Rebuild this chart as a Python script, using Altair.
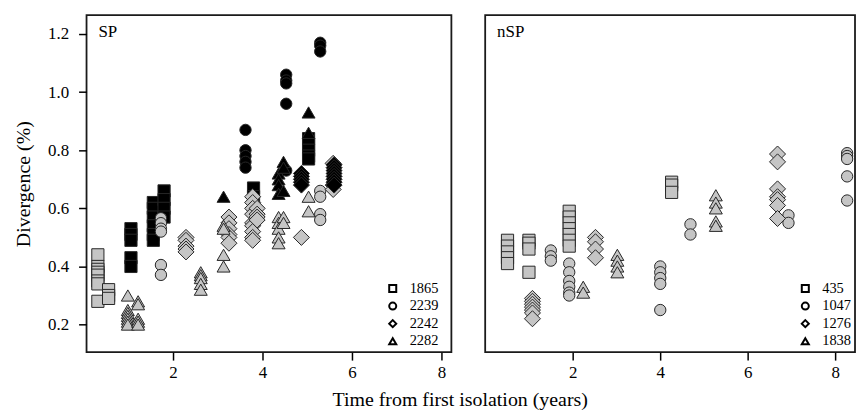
import altair as alt
import pandas as pd

FONT = "Liberation Serif"

# ---- data: (strain, shade, time in years, divergence values %) ----
SP_STRAINS = ["1865", "2239", "2242", "2282"]
NSP_STRAINS = ["435", "1047", "1276", "1838"]

sp_clusters = [
    ("1865", "grey", 0.32, [0.44, 0.40, 0.39, 0.38, 0.37, 0.35, 0.34, 0.28]),
    ("1865", "grey", 0.56, [0.32, 0.30, 0.29]),
    ("1865", "black", 1.06, [0.53, 0.51, 0.49, 0.43, 0.40]),
    ("1865", "black", 1.56, [0.62, 0.60, 0.57, 0.54, 0.51, 0.49]),
    ("1865", "black", 1.80, [0.66, 0.63, 0.60, 0.57]),
    ("1865", "black", 3.80, [0.67, 0.64]),
    ("1865", "black", 5.03, [0.84, 0.82, 0.80, 0.78, 0.77]),
    ("2239", "grey", 1.73, [0.566, 0.549, 0.53, 0.52, 0.405, 0.371]),
    ("2239", "grey", 5.29, [0.66, 0.64, 0.58, 0.56]),
    ("2239", "black", 3.62, [0.87, 0.80, 0.78, 0.76, 0.74]),
    ("2239", "black", 4.53, [1.06, 1.04, 1.03, 0.96, 0.73]),
    ("2239", "black", 5.29, [1.17, 1.16, 1.14]),
    ("2242", "grey", 2.29, [0.50, 0.49, 0.47, 0.46, 0.45]),
    ("2242", "grey", 3.25, [0.57, 0.55, 0.53, 0.51, 0.50, 0.48]),
    ("2242", "grey", 3.78, [0.64, 0.62, 0.60, 0.58, 0.55, 0.54, 0.52, 0.50, 0.49]),
    ("2242", "grey", 3.88, [0.60, 0.58, 0.57, 0.56]),
    ("2242", "grey", 4.87, [0.50]),
    ("2242", "grey", 5.58, [0.755, 0.68, 0.665]),
    ("2242", "black", 4.87, [0.72, 0.71, 0.70, 0.69, 0.68]),
    ("2242", "black", 5.60, [0.75, 0.74, 0.73, 0.72, 0.71, 0.70, 0.69, 0.68]),
    ("2282", "grey", 0.99, [0.30, 0.25, 0.24, 0.23, 0.22, 0.21, 0.20]),
    ("2282", "grey", 1.22, [0.28, 0.27, 0.22, 0.21, 0.20]),
    ("2282", "grey", 2.62, [0.38, 0.37, 0.36, 0.34, 0.32]),
    ("2282", "grey", 3.13, [0.54, 0.53, 0.44, 0.40]),
    ("2282", "grey", 4.36, [0.57, 0.55, 0.53, 0.50, 0.48]),
    ("2282", "grey", 4.47, [0.57, 0.55]),
    ("2282", "grey", 5.03, [0.64, 0.59]),
    ("2282", "black", 3.13, [0.64]),
    ("2282", "black", 4.36, [0.72, 0.70, 0.68, 0.65]),
    ("2282", "black", 4.47, [0.76, 0.74, 0.66]),
    ("2282", "black", 5.03, [0.93, 0.86]),
]

nsp_clusters = [
    ("435", "grey", 0.51, [0.49, 0.47, 0.45, 0.43, 0.41]),
    ("435", "grey", 1.00, [0.49, 0.48, 0.46, 0.38]),
    ("435", "grey", 1.92, [0.59, 0.57, 0.55, 0.53, 0.51, 0.49, 0.47]),
    ("435", "grey", 4.26, [0.69, 0.68, 0.655]),
    ("1047", "grey", 1.50, [0.455, 0.435, 0.42]),
    ("1047", "grey", 1.92, [0.41, 0.38, 0.35, 0.33, 0.31, 0.30]),
    ("1047", "grey", 4.00, [0.40, 0.38, 0.36, 0.34, 0.25]),
    ("1047", "grey", 4.69, [0.545, 0.51]),
    ("1047", "grey", 6.93, [0.576, 0.55]),
    ("1047", "grey", 8.27, [0.79, 0.78, 0.77, 0.71, 0.627]),
    ("1276", "grey", 1.08, [0.29, 0.28, 0.27, 0.26, 0.25, 0.24, 0.22]),
    ("1276", "grey", 2.52, [0.50, 0.485, 0.46, 0.43]),
    ("1276", "grey", 6.68, [0.787, 0.76, 0.667, 0.64, 0.63, 0.61, 0.565]),
    ("1838", "grey", 2.24, [0.33, 0.31]),
    ("1838", "grey", 3.02, [0.44, 0.42, 0.40, 0.38]),
    ("1838", "grey", 5.27, [0.645, 0.62, 0.60, 0.555, 0.54]),
]

SHAPES = ["square", "circle", "diamond", "triangle-up"]
SIZES = [150, 130, 260, 170]
Y_DOMAIN = [0.105, 1.265]
LEGEND_SLOTS = [0, 1, 2, 3]
PLOT_H = 339


def build(clusters):
    rows = []
    for strain, shade, t, vals in clusters:
        for v in vals:
            rows.append({"strain": strain, "shade": shade, "time": t, "div": v})
    return pd.DataFrame(rows)


def panel(df, strains, label, xdomain, width, show_y, legend_x):
    if show_y:
        yaxis = alt.Axis(values=[0.2, 0.4, 0.6, 0.8, 1.0, 1.2], format=".1f",
                         title="Divergence (%)", labelPadding=10, titlePadding=14)
    else:
        yaxis = None
    shape_scale = alt.Scale(domain=strains, range=SHAPES)
    pts = alt.Chart(df).mark_point(
        filled=True, stroke="#262626", strokeWidth=1, opacity=1
    ).encode(
        x=alt.X("time:Q", scale=alt.Scale(domain=xdomain, nice=False, zero=False),
                axis=alt.Axis(values=[2, 4, 6, 8], title=None, labelPadding=4)),
        y=alt.Y("div:Q", scale=alt.Scale(domain=Y_DOMAIN, nice=False, zero=False), axis=yaxis),
        shape=alt.Shape("strain:N", scale=shape_scale, legend=None),
        size=alt.Size("strain:N", scale=alt.Scale(type="ordinal", domain=strains, range=SIZES),
                      legend=None),
        fill=alt.Fill("shade:N", scale=alt.Scale(domain=["grey", "black"], range=["#c5c5c5", "#000000"]),
                      legend=None),
    )
    # key (legend) built from the strain list
    leg_df = pd.DataFrame({"strain": strains, "slot": LEGEND_SLOTS})
    slot_y = alt.Y("slot:Q", scale=alt.Scale(domain=[0, 3], range=[PLOT_H - 64, PLOT_H - 11],
                                             nice=False, zero=False), axis=None)
    leg_pts = alt.Chart(leg_df).mark_point(
        filled=True, fill="white", stroke="black", strokeWidth=2, size=50, opacity=1
    ).encode(
        x=alt.value(legend_x), y=slot_y,
        shape=alt.Shape("strain:N", scale=shape_scale, legend=None),
    )
    leg_txt = alt.Chart(leg_df).mark_text(
        align="left", baseline="middle", font=FONT, fontSize=14.5, color="black"
    ).encode(x=alt.value(legend_x + 17), y=slot_y, text="strain:N")
    txt = alt.Chart(pd.DataFrame({"label": [label]})).mark_text(
        align="left", baseline="alphabetic", font=FONT, fontSize=17, color="black"
    ).encode(text="label:N", x=alt.value(12), y=alt.value(22))
    return alt.layer(pts, leg_pts, leg_txt, txt).resolve_scale(y="independent").properties(
        width=width, height=PLOT_H)


left = panel(build(sp_clusters), SP_STRAINS, "SP", [0.067, 8.222], 367, True, 308)
right = panel(build(nsp_clusters), NSP_STRAINS, "nSP", [0.0, 8.45], 372, False, 322)

chart = alt.hconcat(left, right, spacing=32).resolve_scale(
    shape="independent", size="independent", x="independent", y="independent"
).properties(
    title=alt.TitleParams("Time from first isolation (years)", orient="bottom", anchor="middle",
                          font=FONT, fontSize=20, fontWeight="normal", color="black", dx=26, offset=9),
    padding={"left": 4, "top": 5, "right": 0, "bottom": 0},
).configure_axis(
    labelFont=FONT, labelFontSize=17, labelColor="black", tickColor="black", tickSize=8,
    tickWidth=1.5, domain=False, grid=False, titleFont=FONT, titleFontSize=20,
    titleColor="black", titleFontWeight="normal",
).configure_view(stroke="#1a1a1a", strokeWidth=1.8)

chart.save("out.html", embed_options={"renderer": "svg", "actions": False})
